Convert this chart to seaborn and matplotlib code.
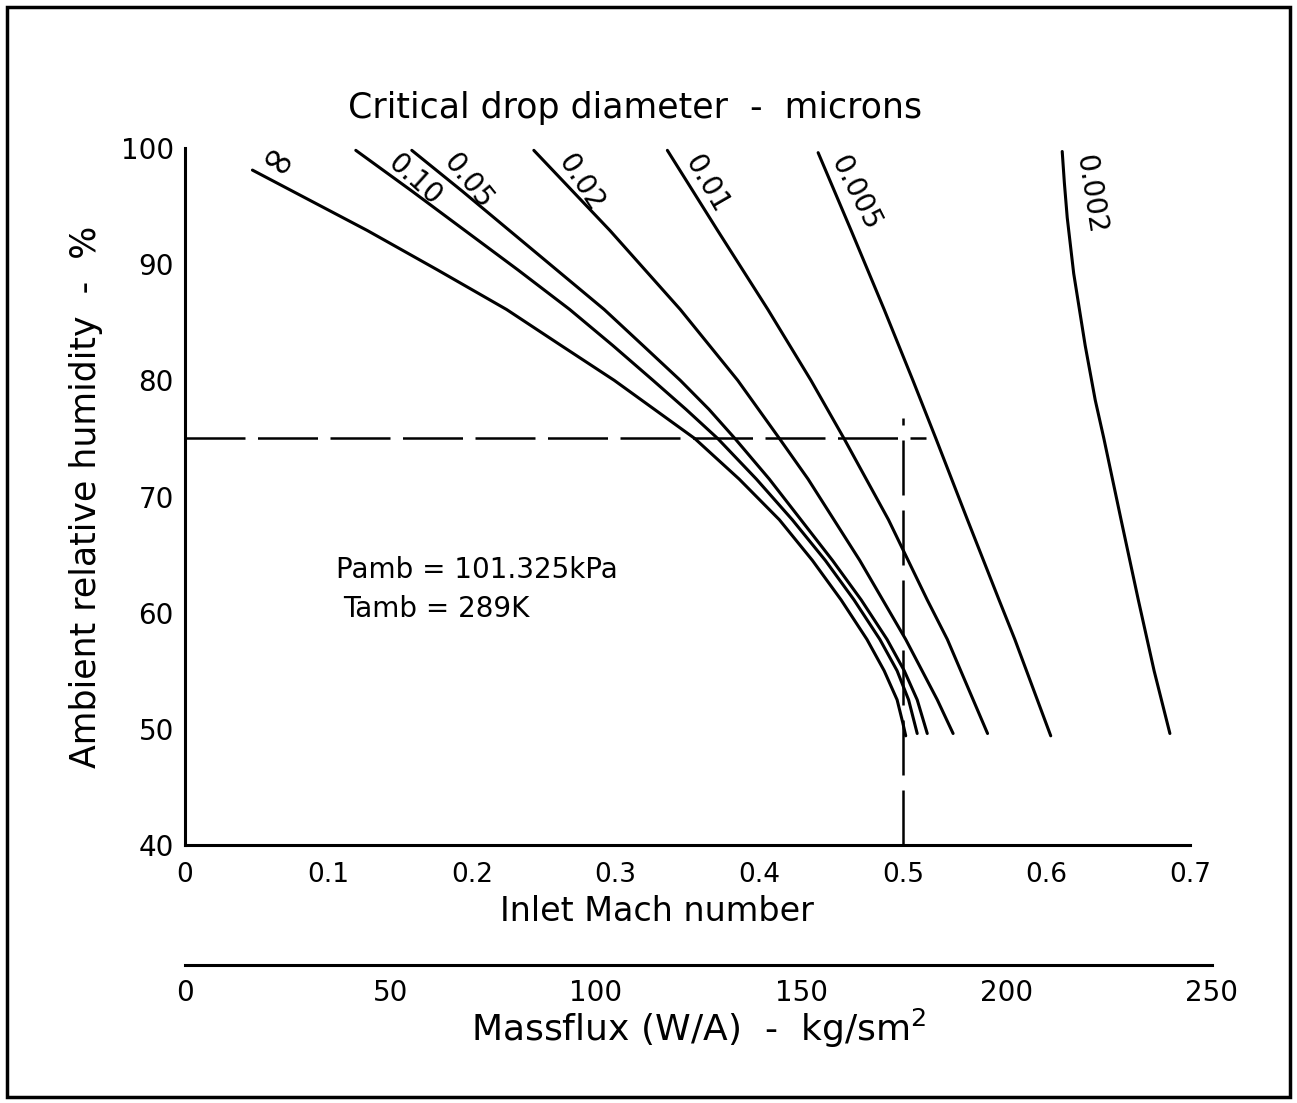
import numpy as np
import pandas as pd
import matplotlib
matplotlib.use('Agg')
import matplotlib.pyplot as plt
import seaborn as sns
from matplotlib.patches import Rectangle

# ── Data (Mach number vs relative humidity) ─────────────────────────────
drop_labels = ['∞', '0.10', '0.05', '0.02', '0.01', '0.005', '0.002']

mach_inf  = [0.047, 0.087, 0.127, 0.176, 0.224, 0.262, 0.299, 0.327, 0.355,
             0.386, 0.414, 0.437, 0.457, 0.475, 0.487, 0.496, 0.500, 0.502]
rh_inf    = [98.1, 95.5, 92.9, 89.5, 86.1, 83.0, 80.0, 77.5, 75.0,
             71.5, 68.0, 64.5, 61.1, 57.7, 55.0, 52.5, 50.5, 49.4]

mach_010  = [0.119, 0.158, 0.195, 0.232, 0.268, 0.298, 0.326, 0.349, 0.371,
             0.398, 0.423, 0.446, 0.466, 0.484, 0.496, 0.504, 0.510]
rh_010    = [99.8, 96.3, 92.9, 89.5, 86.1, 83.0, 80.0, 77.5, 75.0,
             71.5, 68.0, 64.5, 61.1, 57.7, 55.0, 52.5, 49.6]

mach_005  = [0.158, 0.193, 0.226, 0.259, 0.292, 0.319, 0.345, 0.365, 0.383,
             0.407, 0.429, 0.451, 0.471, 0.489, 0.501, 0.510, 0.517]
rh_005    = [99.8, 96.3, 92.9, 89.5, 86.1, 83.0, 80.0, 77.5, 75.0,
             71.5, 68.0, 64.5, 61.1, 57.7, 55.0, 52.5, 49.6]

mach_002  = [0.243, 0.296, 0.345, 0.385, 0.414, 0.434, 0.452, 0.470, 0.486,
             0.502, 0.524, 0.535]
rh_002    = [99.8, 92.9, 86.1, 80.0, 75.0, 71.5, 68.0, 64.5, 61.1,
             57.7, 52.5, 49.6]

mach_001  = [0.336, 0.371, 0.406, 0.436, 0.459, 0.490, 0.517, 0.531, 0.559]
rh_001    = [99.8, 92.9, 86.1, 80.0, 75.0, 68.0, 61.1, 57.7, 49.6]

mach_0005 = [0.441, 0.464, 0.487, 0.507, 0.523, 0.545, 0.567, 0.578, 0.603]
rh_0005   = [99.6, 92.9, 86.1, 80.0, 75.0, 68.0, 61.1, 57.7, 49.4]

mach_0002 = [0.611, 0.6125, 0.6145, 0.619, 0.627, 0.634, 0.640, 0.652, 0.664, 0.675, 0.686]
rh_0002   = [99.7, 97.0, 94.0, 89.2, 83.0, 78.3, 75.0, 68.0, 61.1, 55.0, 49.6]

curves = [(mach_inf, rh_inf), (mach_010, rh_010), (mach_005, rh_005),
          (mach_002, rh_002), (mach_001, rh_001), (mach_0005, rh_0005),
          (mach_0002, rh_0002)]

# label placement (offset from curve start, points) and rotation
label_offsets = [(17, 4), (42, -21), (40, -22), (34, -23), (28, -24), (27, -29), (20, -31)]
label_rot     = [-33, -42, -51, -57, -60, -63, -81]

# design point (dashed guide lines)
design_rh   = 75
design_mach = 0.5

mach_ticks     = [0, 0.1, 0.2, 0.3, 0.4, 0.5, 0.6, 0.7]
rh_ticks       = [40, 50, 60, 70, 80, 90, 100]
massflux_ticks = [0, 50, 100, 150, 200, 250]

# ── Long table for seaborn ──────────────────────────────────────────────
frames = []
for lab, (m, r) in zip(drop_labels, curves):
    frames.append(pd.DataFrame({'mach': m, 'rh': r, 'drop': lab}))
df = pd.concat(frames, ignore_index=True)

# ── Figure ──────────────────────────────────────────────────────────────
sns.set_style('white')
plt.rcParams['font.family'] = ['DejaVu Sans']
plt.rcParams['text.color'] = 'black'
plt.rcParams['axes.labelcolor'] = 'black'

fig = plt.figure(figsize=(12.97, 11.03), dpi=100)
ax = fig.add_axes([0.1426, 0.2339, 0.7749, 0.6319])

sns.lineplot(data=df, x='mach', y='rh', hue='drop', units='drop',
             estimator=None, sort=False, palette=['black'] * len(drop_labels),
             linewidth=2.2, legend=False, ax=ax)

# curve labels
for lab, (m, r), off, rot in zip(drop_labels, curves, label_offsets, label_rot):
    fs = 30 if lab == '∞' else 20
    ax.annotate(lab, xy=(m[0], r[0]), xytext=off, textcoords='offset points',
                ha='center', va='center', rotation=rot, fontsize=fs,
                rotation_mode='anchor')

# dashed guide lines
ax.plot([0, 0.516], [design_rh, design_rh], color='black', lw=1.8,
        dashes=(24, 5))
ax.plot([design_mach, design_mach], [40, 76.8], color='black', lw=1.8,
        dashes=(22, 6))

ax.set_xlim(0, 0.7)
ax.set_ylim(40, 100)
ax.set_xticks(mach_ticks)
ax.set_xticklabels(['0', '0.1', '0.2', '0.3', '0.4', '0.5', '0.6', '0.7'])
ax.set_yticks(rh_ticks)
for s in ['top', 'right']:
    ax.spines[s].set_visible(False)
for s in ['left', 'bottom']:
    ax.spines[s].set_linewidth(2.2)
    ax.spines[s].set_color('black')
ax.tick_params(axis='x', direction='in', length=10, width=1.5,
               labelsize=19, pad=12, colors='black')
ax.tick_params(axis='y', direction='in', length=11, width=1.8,
               labelsize=20, pad=8, colors='black')
ax.set_xlabel('Inlet Mach number', fontsize=24)
ax.xaxis.set_label_coords(0.47, -0.072)
ax.set_ylabel('Ambient relative humidity  -  %', fontsize=25)
ax.yaxis.set_label_coords(-0.082, 0.5)

ax.text(0.105, 63.0, 'Pamb = 101.325kPa', fontsize=20)
ax.text(0.11, 59.6, 'Tamb = 289K', fontsize=20)

# ── Massflux scale underneath ───────────────────────────────────────────
ax2 = fig.add_axes([0.1426, 0.1251, 0.7918, 0.0001])
ax2.set_xlim(0, 250)
ax2.set_xticks(massflux_ticks)
ax2.set_yticks([])
for s in ['top', 'right', 'left']:
    ax2.spines[s].set_visible(False)
ax2.spines['bottom'].set_linewidth(2.2)
ax2.spines['bottom'].set_color('black')
ax2.tick_params(axis='x', direction='in', length=10, width=1.5,
                labelsize=20, pad=10, colors='black')
ax2.set_xlabel('Massflux (W/A)  -  kg/sm$^2$', fontsize=26, labelpad=0)
ax2.patch.set_visible(False)

fig.text(0.490, 0.902, 'Critical drop diameter  -  microns',
         ha='center', va='center', fontsize=25)

# outer frame
fig.add_artist(Rectangle((0.0054, 0.0054), 0.989, 0.988,
                         transform=fig.transFigure, fill=False,
                         lw=2.5, edgecolor='black'))

fig.savefig('out.png', dpi=100)
plt.close(fig)
